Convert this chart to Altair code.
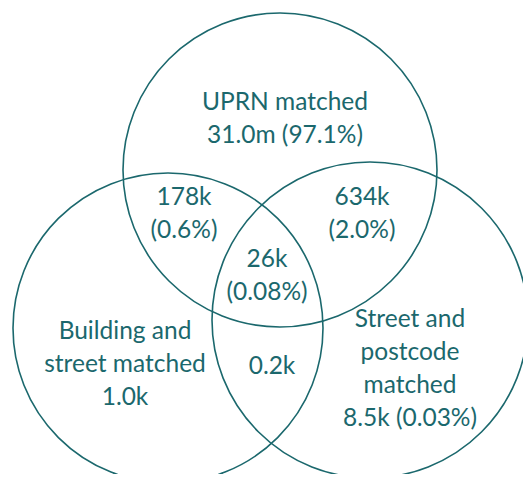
import altair as alt
import pandas as pd

# Circles (reference pixel coordinates)
circle_names = ["UPRN matched", "Building and street matched", "Street and postcode matched"]
circle_cx = [280, 168, 370]
circle_cy = [170, 328, 320]
circle_r = [157, 155, 158]

# Labels (position of first line)
label_text = [
    "UPRN matched\n31.0m (97.1%)",
    "178k\n(0.6%)",
    "634k\n(2.0%)",
    "26k\n(0.08%)",
    "Building and\nstreet matched\n1.0k",
    "0.2k",
    "Street and\npostcode\nmatched\n8.5k (0.03%)",
]
label_x = [285, 184, 362, 267, 125, 272, 410]
label_y = [103, 198, 198, 260, 332, 367, 320]

TEAL = "#1b686d"

circles = pd.DataFrame({
    "name": circle_names,
    "cx": circle_cx,
    "cy": circle_cy,
    "r": circle_r,
})
circles["area"] = 4 * circles["r"] ** 2

labels = pd.DataFrame({"text": label_text, "x": label_x, "y": label_y})

xs = alt.Scale(domain=[8, 523], nice=False, zero=False)
ys = alt.Scale(domain=[8, 474], nice=False, zero=False, reverse=True)

circ = alt.Chart(circles).mark_point(
    shape="circle", filled=False, color=TEAL, strokeWidth=1.6, opacity=1
).encode(
    x=alt.X("cx:Q", scale=xs, axis=None),
    y=alt.Y("cy:Q", scale=ys, axis=None),
    size=alt.Size("area:Q", scale=None, legend=None),
)

txt = alt.Chart(labels).mark_text(
    font="Lato", fontSize=24.5, lineHeight=33, color=TEAL, lineBreak="\n",
    align="center", baseline="middle"
).encode(
    x=alt.X("x:Q", scale=xs, axis=None),
    y=alt.Y("y:Q", scale=ys, axis=None),
    text="text:N",
)

chart = alt.layer(circ, txt).properties(
    width=515, height=466, padding=0,
    autosize=alt.AutoSizeParams(type="none"),
).configure_view(stroke=None)

chart.save("out.html", embed_options={"renderer": "svg", "actions": False})
